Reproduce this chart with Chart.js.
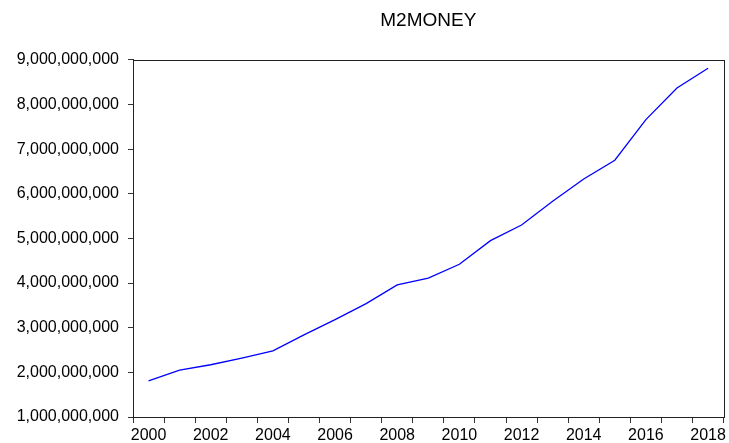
<!DOCTYPE html>
<html>
<head>
<meta charset="utf-8">
<script src="https://cdn.jsdelivr.net/npm/chart.js@4"></script>
<style>
    body { margin: 0; background: #fff; }
    #wrap { width: 729px; height: 443px; }
</style>
</head>
<body>
<div id="wrap"><canvas id="mainChart" width="729" height="443"></canvas></div>
<script>
const years = ['2000', '2001', '2002', '2003', '2004', '2005', '2006', '2007', '2008', '2009',
    '2010', '2011', '2012', '2013', '2014', '2015', '2016', '2017', '2018'];

const m2money = [1.81e9, 2.05e9, 2.17e9, 2.32e9, 2.48e9, 2.84e9, 3.18e9, 3.54e9, 3.96e9, 4.11e9,
    4.42e9, 4.95e9, 5.30e9, 5.83e9, 6.33e9, 6.75e9, 7.66e9, 8.37e9, 8.81e9];

const yMin = 1000000000;
const yMax = 9000000000;
const yStep = 1000000000;

const FONT = "'Liberation Sans', Arial, sans-serif";

// box around the plot area (EViews style frame)
const frame = {
    id: 'frame',
    afterDraw(chart) {
        const { ctx, chartArea: a } = chart;
        ctx.save();
        ctx.strokeStyle = '#222';
        ctx.lineWidth = 1;
        ctx.strokeRect(Math.round(a.left) + 0.5, Math.round(a.top) + 0.5,
            Math.round(a.right - a.left), Math.round(a.bottom - a.top));
        ctx.restore();
    }
};

const ctx = document.getElementById('mainChart');

new Chart(ctx, {
    type: 'line',
    data: {
        labels: years,
        datasets: [{
            label: 'M2MONEY',
            data: m2money,
            borderColor: '#0000ff',
            borderWidth: 1.3,
            pointRadius: 0,
            tension: 0,
            fill: false
        }]
    },
    options: {
        responsive: false,
        animation: false,
        layout: { padding: { left: 0, right: 2, top: 0, bottom: 0 } },
        plugins: {
            legend: { display: false },
            tooltip: { enabled: false },
            title: {
                display: true,
                fullSize: false,
                text: 'M2MONEY',
                color: '#000',
                font: { family: FONT, size: 19, weight: 'normal' },
                padding: { top: 9, bottom: 28 }
            }
        },
        scales: {
            x: {
                type: 'category',
                offset: true,
                grid: {
                    offset: true,
                    drawOnChartArea: false,
                    drawTicks: true,
                    tickLength: 6,
                    tickColor: '#333',
                    lineWidth: 1
                },
                border: { color: '#222', width: 1 },
                ticks: {
                    autoSkip: false,
                    maxRotation: 0,
                    color: '#000',
                    padding: 3,
                    font: { family: FONT, size: 16 },
                    callback: (v, i) => (i % 2 === 0 ? years[i] : '')
                },
                afterFit: (scale) => { scale.height = 26; }
            },
            y: {
                min: yMin,
                max: yMax,
                grid: {
                    drawOnChartArea: false,
                    drawTicks: true,
                    tickLength: 5,
                    tickColor: '#333',
                    lineWidth: 1
                },
                border: { color: '#222', width: 1 },
                ticks: {
                    stepSize: yStep,
                    color: '#000',
                    padding: 9,
                    font: { family: FONT, size: 16 },
                    callback: (v) => Number(v).toLocaleString('en-US')
                },
                afterFit: (scale) => { scale.width = 133; }
            }
        }
    },
    plugins: [frame]
});
</script>
</body>
</html>
